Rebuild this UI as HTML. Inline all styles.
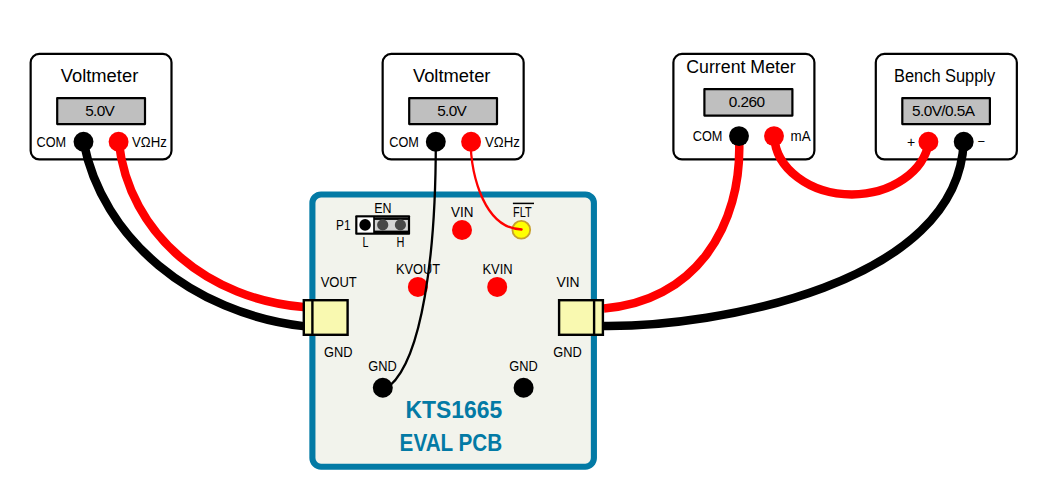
<!DOCTYPE html>
<html>
<head>
<meta charset="utf-8">
<title>KTS1665 EVAL PCB Test Setup</title>
<style>
html,body{margin:0;padding:0;background:#fff;}
body{width:1061px;height:491px;overflow:hidden;}
svg{display:block;}
text{font-family:"Liberation Sans",sans-serif;fill:#000;}
.lbl{font-size:14px;}
.ttl{font-size:17.5px;}
.disp{font-size:15.4px;}
.big{font-size:23.5px;font-weight:bold;fill:#037aa5;}
</style>
</head>
<body>
<svg width="1061" height="491" viewBox="0 0 1061 491">
<rect x="0" y="0" width="1061" height="491" fill="#ffffff"/>

<!-- PCB -->
<rect x="312.4" y="194.5" width="281.5" height="272.2" rx="8.6" ry="8.6" fill="#f2f3ec" stroke="#037aa5" stroke-width="6.1"/>

<!-- meter boxes -->
<g fill="#ffffff" stroke="#000" stroke-width="2.2">
<rect x="30.65" y="53.95" width="140.85" height="105.45" rx="8.6" ry="8.6"/>
<rect x="382.65" y="53.95" width="141" height="105.45" rx="8.6" ry="8.6"/>
<rect x="673.4" y="53.95" width="141" height="105.45" rx="8.6" ry="8.6"/>
<rect x="875.8" y="53.95" width="141.05" height="105.45" rx="8.6" ry="8.6"/>
</g>
<!-- displays -->
<g fill="#bfbfbf" stroke="#000" stroke-width="2.2" stroke-linejoin="round">
<rect x="57.2" y="98.1" width="87.8" height="26"/>
<rect x="409.2" y="98.1" width="87.8" height="26"/>
<rect x="704.4" y="89.2" width="88" height="26.4"/>
<rect x="902.3" y="98.1" width="87.6" height="26"/>
</g>

<!-- titles -->
<text class="ttl" x="60.7" y="82.1" textLength="77.6" lengthAdjust="spacingAndGlyphs">Voltmeter</text>
<text class="ttl" x="412.9" y="82.1" textLength="77.6" lengthAdjust="spacingAndGlyphs">Voltmeter</text>
<text class="ttl" x="686.3" y="73.1" textLength="109.4" lengthAdjust="spacingAndGlyphs">Current Meter</text>
<text class="ttl" x="894" y="82.1" textLength="101.2" lengthAdjust="spacingAndGlyphs">Bench Supply</text>

<!-- display values -->
<text class="disp" x="85.2" y="116" textLength="29.6" lengthAdjust="spacing">5.0V</text>
<text class="disp" x="437.2" y="116" textLength="29.6" lengthAdjust="spacing">5.0V</text>
<text class="disp" x="728.8" y="106.9" textLength="36.2" lengthAdjust="spacing">0.260</text>
<text class="disp" x="911.9" y="116" textLength="63.2" lengthAdjust="spacing">5.0V/0.5A</text>

<!-- terminal labels -->
<text class="lbl" x="36.5" y="146.7" textLength="29.6" lengthAdjust="spacingAndGlyphs">COM</text>
<text class="lbl" x="132" y="146.7" textLength="34.8" lengthAdjust="spacingAndGlyphs">VΩHz</text>
<text class="lbl" x="389.3" y="146.7" textLength="29.6" lengthAdjust="spacingAndGlyphs">COM</text>
<text class="lbl" x="485" y="146.7" textLength="34.8" lengthAdjust="spacingAndGlyphs">VΩHz</text>
<text class="lbl" x="692.7" y="141" textLength="29.7" lengthAdjust="spacingAndGlyphs">COM</text>
<text class="lbl" x="790.6" y="141" textLength="20.1" lengthAdjust="spacingAndGlyphs">mA</text>
<text class="lbl" x="906.9" y="146.9" style="font-size:14px">+</text>
<text class="lbl" x="977.4" y="146" style="font-size:13px">−</text>

<!-- PCB labels -->
<text class="lbl" x="374.3" y="212.7" textLength="17.3" lengthAdjust="spacingAndGlyphs">EN</text>
<text class="lbl" x="336.1" y="230" textLength="14.5" lengthAdjust="spacingAndGlyphs">P1</text>
<text class="lbl" x="362.5" y="247.2" textLength="6" lengthAdjust="spacingAndGlyphs">L</text>
<text class="lbl" x="396.4" y="247.2" textLength="7.9" lengthAdjust="spacingAndGlyphs">H</text>
<text class="lbl" x="451" y="216.9" textLength="22.4" lengthAdjust="spacingAndGlyphs">VIN</text>
<text class="lbl" x="513" y="216.9" textLength="18.6" lengthAdjust="spacingAndGlyphs">FLT</text>
<line x1="512.9" y1="203.4" x2="534" y2="203.4" stroke="#000" stroke-width="1.5"/>
<text class="lbl" x="320.7" y="286.9" textLength="36.1" lengthAdjust="spacingAndGlyphs">VOUT</text>
<text class="lbl" x="396" y="273.7" textLength="44.1" lengthAdjust="spacingAndGlyphs">KVOUT</text>
<text class="lbl" x="482.4" y="273.7" textLength="30.2" lengthAdjust="spacingAndGlyphs">KVIN</text>
<text class="lbl" x="556.4" y="286.9" textLength="23.1" lengthAdjust="spacingAndGlyphs">VIN</text>
<text class="lbl" x="324.1" y="356.8" textLength="28.5" lengthAdjust="spacingAndGlyphs">GND</text>
<text class="lbl" x="368.2" y="370.7" textLength="28.5" lengthAdjust="spacingAndGlyphs">GND</text>
<text class="lbl" x="509.2" y="370.7" textLength="28.5" lengthAdjust="spacingAndGlyphs">GND</text>
<text class="lbl" x="553.2" y="356.8" textLength="28.5" lengthAdjust="spacingAndGlyphs">GND</text>
<text class="big" x="405.4" y="417.8" textLength="96.8" lengthAdjust="spacingAndGlyphs">KTS1665</text>
<text class="big" x="399.6" y="450.6" textLength="102.6" lengthAdjust="spacingAndGlyphs">EVAL PCB</text>

<!-- jumper P1 -->
<rect x="355.2" y="215.2" width="54.9" height="19.6" rx="1" ry="1" fill="#000"/>
<rect x="357.4" y="217.4" width="15.8" height="15.2" fill="#ffffff"/>
<rect x="374.8" y="219.9" width="33.1" height="10.7" fill="#d4d4d4"/>
<line x1="374.8" y1="217.6" x2="408" y2="217.6" stroke="#5a5a5a" stroke-width="0.6"/>
<circle cx="365.1" cy="224.9" r="5.8" fill="#000"/>
<circle cx="382.7" cy="224.9" r="5.6" fill="#484848"/>
<circle cx="400.4" cy="224.9" r="5.6" fill="#484848"/>

<!-- test points -->
<circle cx="462" cy="230" r="10" fill="#ff0000"/>
<circle cx="521.3" cy="229.8" r="8.9" fill="#ffff00" stroke="#c8a02c" stroke-width="1.8"/>
<circle cx="417.9" cy="286.9" r="10" fill="#ff0000"/>
<circle cx="497.2" cy="286.9" r="10" fill="#ff0000"/>
<circle cx="382.8" cy="387.7" r="10" fill="#000"/>
<circle cx="523.6" cy="387.7" r="10" fill="#000"/>

<!-- thick cables -->
<g fill="none" stroke-width="8.5" stroke-linecap="butt">
<path id="c1" d="M83.5,141.6 C102.2,238.9 192,313 303.5,326.1" stroke="#000"/>
<path id="c2" d="M118.7,141.6 C128.9,236.1 210.6,299.8 303.5,307" stroke="#ff0000"/>
<path id="c3" d="M739,136 C743.8,230.6 690.9,302.1 604,308.4" stroke="#ff0000"/>
<path id="c4" d="M774.28,136 A77.6,59.9 0 0 0 851.86,194.4 A77.6,59.9 0 0 0 928.91,141.6" stroke="#ff0000"/>
<path id="c5" d="M963.7,141.6 C958.2,284.4 715.7,327 604,326" stroke="#000"/>
</g>
<!-- thin wires -->
<g fill="none" stroke-width="2.3" stroke-linecap="round">
<path id="w1" d="M435.8,141.6 C435.9,257.1 421.6,357.7 390.0,385.5" stroke="#000"/>
<path id="w2" d="M471.1,141.6 C469.2,160.6 479.7,228.3 521.6,229.5" stroke="#ff0000"/>
</g>

<!-- terminals -->
<circle cx="83.5" cy="141.7" r="9.95" fill="#000"/>
<circle cx="118.6" cy="141.7" r="9.95" fill="#ff0000"/>
<circle cx="435.8" cy="141.7" r="9.95" fill="#000"/>
<circle cx="471.1" cy="141.7" r="9.95" fill="#ff0000"/>
<circle cx="739" cy="136.1" r="9.95" fill="#000"/>
<circle cx="774" cy="136.1" r="9.95" fill="#ff0000"/>
<circle cx="928.4" cy="141.7" r="9.95" fill="#ff0000"/>
<circle cx="963.7" cy="141.7" r="9.95" fill="#000"/>

<!-- connectors -->
<g fill="#f9f9b0" stroke="#000" stroke-width="2.4">
<rect x="303.8" y="300.2" width="43.8" height="34.6"/>
<rect x="559.1" y="300.2" width="43.8" height="34.6"/>
</g>
<line x1="312.4" y1="300.2" x2="312.4" y2="334.8" stroke="#000" stroke-width="2.4"/>
<line x1="594.1" y1="300.2" x2="594.1" y2="334.8" stroke="#000" stroke-width="2.4"/>
</svg>
</body>
</html>
